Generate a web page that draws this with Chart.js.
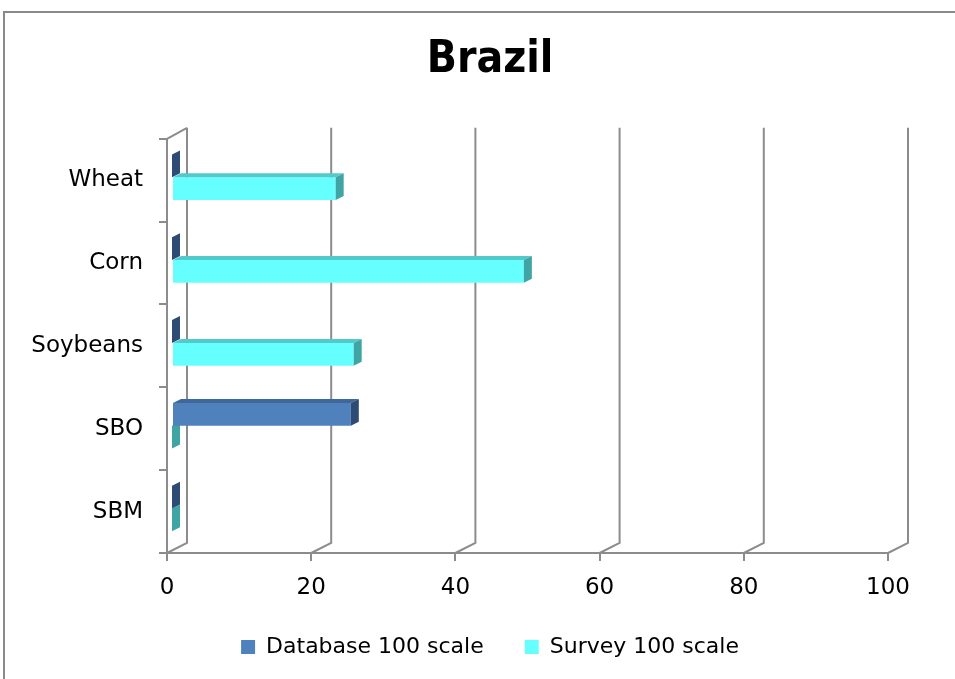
<!DOCTYPE html>
<html>
<head>
<meta charset="utf-8">
<title>Brazil</title>
<script src="https://cdn.jsdelivr.net/npm/chart.js@4.4.1/dist/chart.umd.min.js"></script>
<style>
  body { margin: 0; background: #fff; }
  canvas { display: block; }
</style>
</head>
<body>
<canvas id="brazilChart" width="955" height="679"></canvas>
<script>
const categories = ['Wheat', 'Corn', 'Soybeans', 'SBO', 'SBM']
const databaseScale = [0, 0, 0, 24.8, 0]
const surveyScale = [22.7, 48.8, 25.2, 0, 0]
const xMin = 0
const xMax = 100
const xStep = 20

// fake excel 3d look: back wall + bar tops/sides
const depth = { dx: 20, dy: -10, barDx: 8, barDy: -4, shiftX: 5, shiftY: -3 }
const faceColors = [
  { top: '#3e679c', side: '#2d4b74' },
  { top: '#52caca', side: '#3fa4a4' }
]

const excel3d = {
  id: 'excel3d',
  beforeDraw(chart) {
    const ctx = chart.ctx
    ctx.save()
    ctx.fillStyle = '#fff'
    ctx.fillRect(0, 0, chart.width, chart.height)
    ctx.strokeStyle = '#8a8a8a'
    ctx.lineWidth = 2
    ctx.strokeRect(4, 12, chart.width + 30, chart.height + 30)
    ctx.restore()
  },
  beforeDatasetsDraw(chart) {
    const { ctx, chartArea, scales } = chart
    const x = scales.x
    ctx.save()
    ctx.strokeStyle = '#8c8c8c'
    ctx.lineWidth = 2
    ctx.beginPath()
    x.ticks.forEach(function(t) {
      const px = x.getPixelForValue(t.value)
      ctx.moveTo(px, chartArea.bottom)
      ctx.lineTo(px + depth.dx, chartArea.bottom + depth.dy)
      ctx.lineTo(px + depth.dx, chartArea.top + depth.dy - 1)
    })
    ctx.moveTo(chartArea.left, chartArea.top)
    ctx.lineTo(chartArea.left + depth.dx, chartArea.top + depth.dy - 1)
    ctx.stroke()
    ctx.restore()
    // bars sit a bit back in the box
    ctx.save()
    ctx.translate(depth.shiftX, depth.shiftY)
  },
  afterDatasetDraw(chart, args) {
    const ctx = chart.ctx
    const cols = faceColors[args.index]
    args.meta.data.forEach(function(bar) {
      const p = bar.getProps(['x', 'y', 'base', 'height'], true)
      const left = Math.min(p.x, p.base)
      const right = Math.max(p.x, p.base)
      const top = p.y - p.height / 2
      const bottom = p.y + p.height / 2
      if (right - left > 1) {
        ctx.fillStyle = cols.top
        ctx.beginPath()
        ctx.moveTo(left, top)
        ctx.lineTo(right, top)
        ctx.lineTo(right + depth.barDx, top + depth.barDy)
        ctx.lineTo(left + depth.barDx, top + depth.barDy)
        ctx.closePath()
        ctx.fill()
      }
      ctx.fillStyle = cols.side
      ctx.beginPath()
      ctx.moveTo(right, top)
      ctx.lineTo(right + depth.barDx, top + depth.barDy)
      ctx.lineTo(right + depth.barDx, bottom + depth.barDy)
      ctx.lineTo(right, bottom)
      ctx.closePath()
      ctx.fill()
    })
  },
  afterDatasetsDraw(chart) {
    chart.ctx.restore()
  }
}

const axisFont = { family: "'DejaVu Sans', sans-serif", size: 23 }

var chart = new Chart('brazilChart', {
  type: 'bar',
  data: {
    labels: categories,
    datasets: [
      {
        label: 'Database 100 scale',
        data: databaseScale,
        backgroundColor: '#4f81bd',
        borderWidth: 0,
        categoryPercentage: 0.55,
        barPercentage: 1
      },
      {
        label: 'Survey 100 scale',
        data: surveyScale,
        backgroundColor: '#66ffff',
        borderWidth: 0,
        categoryPercentage: 0.55,
        barPercentage: 1
      }
    ]
  },
  options: {
    indexAxis: 'y',
    responsive: false,
    animation: false,
    devicePixelRatio: 1,
    layout: { padding: { left: 25, right: 0, top: 12, bottom: 11 } },
    plugins: {
      title: {
        display: true,
        text: 'Brazil',
        color: '#000',
        font: { family: "'DejaVu Sans Condensed', 'Liberation Sans Narrow', sans-serif", size: 44, weight: 'bold' },
        padding: { top: 22, bottom: 52 }
      },
      legend: {
        display: true,
        position: 'bottom',
        labels: {
          color: '#000',
          font: { family: "'DejaVu Sans', sans-serif", size: 22 },
          boxWidth: 14,
          boxHeight: 14,
          padding: 41
        }
      },
      tooltip: { enabled: false }
    },
    scales: {
      x: {
        min: xMin,
        max: xMax,
        ticks: { stepSize: xStep, color: '#000', font: axisFont, padding: 13 },
        grid: { drawOnChartArea: false, color: '#8c8c8c', lineWidth: 2, tickLength: 8 },
        border: { display: true, color: '#8c8c8c', width: 2 },
        afterFit: function(s) { s.height = 42 }
      },
      y: {
        ticks: { color: '#000', font: axisFont, padding: 16 },
        grid: { drawOnChartArea: false, color: '#8c8c8c', lineWidth: 2, tickLength: 8 },
        border: { display: true, color: '#8c8c8c', width: 2 },
        afterFit: function(s) { s.width = 142 }
      },
      // empty right-hand box, only keeps the plot off the right edge
      spacer: {
        type: 'linear',
        position: 'right',
        axis: 'y',
        ticks: { display: false },
        grid: { display: false },
        border: { display: false },
        afterFit: function(s) { s.width = 67 }
      }
    }
  },
  plugins: [excel3d]
})
</script>
</body>
</html>
